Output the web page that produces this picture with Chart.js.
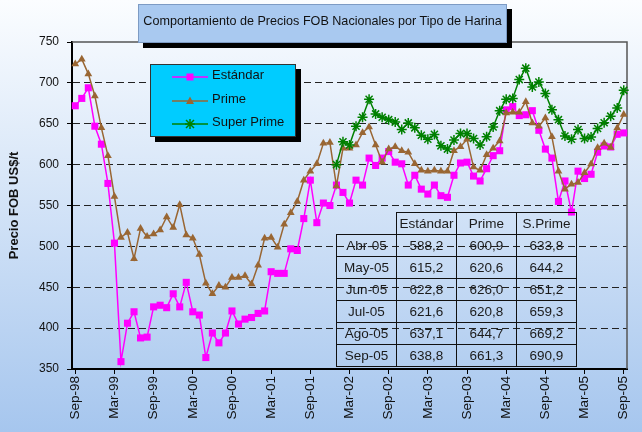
<!DOCTYPE html>
<html>
<head>
<meta charset="utf-8">
<script src="https://cdn.jsdelivr.net/npm/chart.js@4.4.0/dist/chart.umd.min.js"></script>
<style>
  body { margin: 0; }
  #wrap {
    position: relative; width: 642px; height: 432px; overflow: hidden;
    background: linear-gradient(#fbfdff, #a6c6ee);
    font-family: "Liberation Sans", Arial, sans-serif;
  }
  #chart { position: absolute; left: 0; top: 0; }
  .title {
    position: absolute; left: 138px; top: 4px; width: 369px; height: 39px; box-sizing: border-box;
    background: #a9c9f0; border: 1px solid #7d9bc4; box-shadow: 5px 5px 0 #000;
    font-size: 12.6px; color: #111; text-align: center; line-height: 33px;
  }
  .legend {
    position: absolute; left: 150px; top: 64px; width: 146px; height: 73px; box-sizing: border-box;
    background: #00ccff; border: 1px solid #333; box-shadow: 5px 5px 0 #000;
  }
  .legend .row { position: absolute; left: 21px; height: 14px; font-size: 13px; color: #111; }
  .legend svg { position: absolute; left: 0; top: 1px; }
  .legend span { position: absolute; left: 40px; top: -2px; white-space: nowrap; }
  table.tab {
    position: absolute; left: 336px; top: 212px; border-collapse: collapse;
    font-size: 13.5px; color: #1b1b1b;
  }
  table.tab td { border: 1px solid #111; width: 59px; height: 21px; padding: 0; text-align: center; }
  table.tab td.blank { border: none; }
</style>
</head>
<body>
<div id="wrap">
  <canvas id="chart" width="642" height="432"></canvas>
  <div class="title">Comportamiento de Precios FOB Nacionales por Tipo de Harina</div>
  <div class="legend" id="legend"></div>
  <table class="tab" id="tab"></table>
</div>
<script>
// months Sep-98 .. Sep-05
const monthNames = ["Ene","Feb","Mar","Abr","May","Jun","Jul","Ago","Sep","Oct","Nov","Dic"];
const firstYear = 1998, firstMonth = 8, nMonths = 85;

const estandar = [
  672, 681, 694, 647, 625, 577, 504, 359, 406, 420, 388, 389,
  426, 428, 425, 442, 426, 456, 420, 416, 364, 394, 382, 394,
  421, 405, 411, 413, 418, 421, 469, 467, 467, 497, 495, 534,
  581, 529, 553, 550, 575, 566, 553, 581, 575, 608, 599, 608,
  616, 603, 601, 575, 587, 570, 564, 575, 562, 560, 587, 602,
  603, 586, 580, 595, 611, 617, 667, 671, 660, 661, 666, 642,
  619, 608, 555, 580, 542, 592, 583, 588.2, 615.2, 622.8, 621.6, 637.1,
  638.8
];
const prime = [
  723, 729, 711, 684, 645, 611, 561, 511, 517, 485, 522, 512,
  515, 520, 536, 523, 551, 514, 510, 490, 455, 442, 452, 450,
  462, 462, 464, 454, 477, 510, 511, 499, 527, 541, 555, 581,
  592, 601, 626, 627, 574, 620, 620, 624, 639, 646, 624, 603,
  619, 622, 617, 615, 601, 593, 592, 593, 592, 592, 617, 622,
  631, 597, 593, 612, 620, 629, 663, 664, 664, 677, 651, 647,
  657, 634, 592, 570, 576, 578, 590, 600.9, 620.6, 626.0, 620.8, 644.7,
  661.3
];
// Super Prime starts in Ene-02 (index 40)
const superPrimeStart = 40;
const superPrime = [
  600, 628, 624, 647, 658, 680, 662, 658, 655, 652, 643, 651,
  645, 636, 631, 637, 623, 619, 630, 638, 638, 632, 624, 634,
  646, 666, 680, 681, 704, 718, 695, 701, 687, 667, 655, 635,
  631, 643, 632, 633.8, 644.2, 651.2, 659.3, 669.2, 690.9
];
const tableHeaders = ["Estándar", "Prime", "S.Prime"];
const tableRows = 6;

const labels = [];
for (let i = 0; i < nMonths; i++) {
  const m = (firstMonth + i) % 12;
  const y = firstYear + Math.floor((firstMonth + i) / 12);
  labels.push(monthNames[m] + "-" + String(y).slice(2));
}
const superPrimeData = new Array(superPrimeStart).fill(null).concat(superPrime);

const frame = {
  id: "frame",
  beforeDatasetsDraw(chart) {
    const { ctx, chartArea: a } = chart;
    ctx.save();
    ctx.strokeStyle = "#555";
    ctx.lineWidth = 1.5;
    ctx.beginPath();
    ctx.moveTo(a.left, a.top);
    ctx.lineTo(a.right, a.top);
    ctx.lineTo(a.right, a.bottom);
    ctx.stroke();
    ctx.restore();
  }
};

new Chart(document.getElementById("chart"), {
  type: "line",
  data: {
    labels: labels,
    datasets: [
      { label: "Estándar", data: estandar, borderColor: "#ff00ff", backgroundColor: "#ff00ff",
        borderWidth: 1.5, pointStyle: "rect", pointRadius: 5, pointBorderWidth: 0, order: 3 },
      { label: "Prime", data: prime, borderColor: "#996633", backgroundColor: "#996633",
        borderWidth: 1.5, pointStyle: "triangle", pointRadius: 4.5, pointBorderWidth: 0, order: 2 },
      { label: "Super Prime", data: superPrimeData, borderColor: "#008000", backgroundColor: "#008000",
        borderWidth: 1.5, pointStyle: "star", pointRadius: 5, pointBorderWidth: 1.5, order: 1 }
    ]
  },
  options: {
    responsive: false,
    animation: false,
    layout: { padding: { top: 42, right: 11, left: 0, bottom: 0 } },
    plugins: { legend: { display: false }, tooltip: { enabled: false } },
    scales: {
      x: {
        type: "category",
        offset: true,
        afterFit: (s) => { s.height = 63; },
        border: { color: "#000", width: 2 },
        grid: {
          drawOnChartArea: false, tickLength: 5,
          color: (c) => (c.index % 6 === 0 ? "#000" : "transparent"),
          tickColor: (c) => (c.index % 6 === 0 ? "#000" : "transparent")
        },
        ticks: {
          autoSkip: false, minRotation: 90, maxRotation: 90, padding: 2,
          color: "#111", font: { family: "Liberation Sans, Arial", size: 13.5 },
          callback: (v, i) => (i % 6 === 0 ? labels[i] : "")
        }
      },
      y: {
        min: 350, max: 750,
        afterFit: (s) => { s.width = 72; },
        border: { color: "#000", width: 2, dash: [7, 4] },
        grid: {
          tickLength: 5, lineWidth: 1, tickColor: "#000", tickBorderDash: [],
          color: (c) => (c.tick && (c.tick.value === 350 || c.tick.value === 750) ? "transparent" : "#222")
        },
        ticks: { stepSize: 50, padding: 8, color: "#111", font: { family: "Liberation Sans, Arial", size: 12 } },
        title: {
          display: true, text: "Precio FOB US$/t", color: "#111",
          font: { family: "Liberation Sans, Arial", size: 13, weight: "bold" },
          padding: { top: 7, bottom: 0 }
        }
      }
    }
  },
  plugins: [frame]
});

// legend
const legendItems = [
  { name: "Estándar", color: "#ff00ff", mark: '<rect x="14.5" y="3.5" width="7" height="7" fill="#ff00ff"/>' },
  { name: "Prime", color: "#996633", mark: '<polygon points="18,2.5 22,10 14,10" fill="#996633"/>' },
  { name: "Super Prime", color: "#008000", mark: '<path d="M14,3 L22,11 M22,3 L14,11 M18,2 L18,12 M13,7 L23,7" stroke="#008000" stroke-width="1.5"/>' }
];
const rowTops = [4, 28, 51];
const legend = document.getElementById("legend");
legendItems.forEach((it, i) => {
  const row = document.createElement("div");
  row.className = "row";
  row.style.top = rowTops[i] + "px";
  row.innerHTML = '<svg width="36" height="14"><line x1="0" y1="7" x2="36" y2="7" stroke="' + it.color +
    '" stroke-width="1.5"/>' + it.mark + '</svg><span>' + it.name + '</span>';
  legend.appendChild(row);
});

// table of the last months
const fmt = (v) => v.toFixed(1).replace(".", ",");
const tab = document.getElementById("tab");
let html = '<tr><td class="blank"></td>' + tableHeaders.map((h) => "<td>" + h + "</td>").join("") + "</tr>";
for (let r = 0; r < tableRows; r++) {
  const i = nMonths - tableRows + r;
  html += "<tr><td>" + labels[i] + "</td><td>" + fmt(estandar[i]) + "</td><td>" + fmt(prime[i]) +
    "</td><td>" + fmt(superPrimeData[i]) + "</td></tr>";
}
tab.innerHTML = html;
</script>
</body>
</html>
